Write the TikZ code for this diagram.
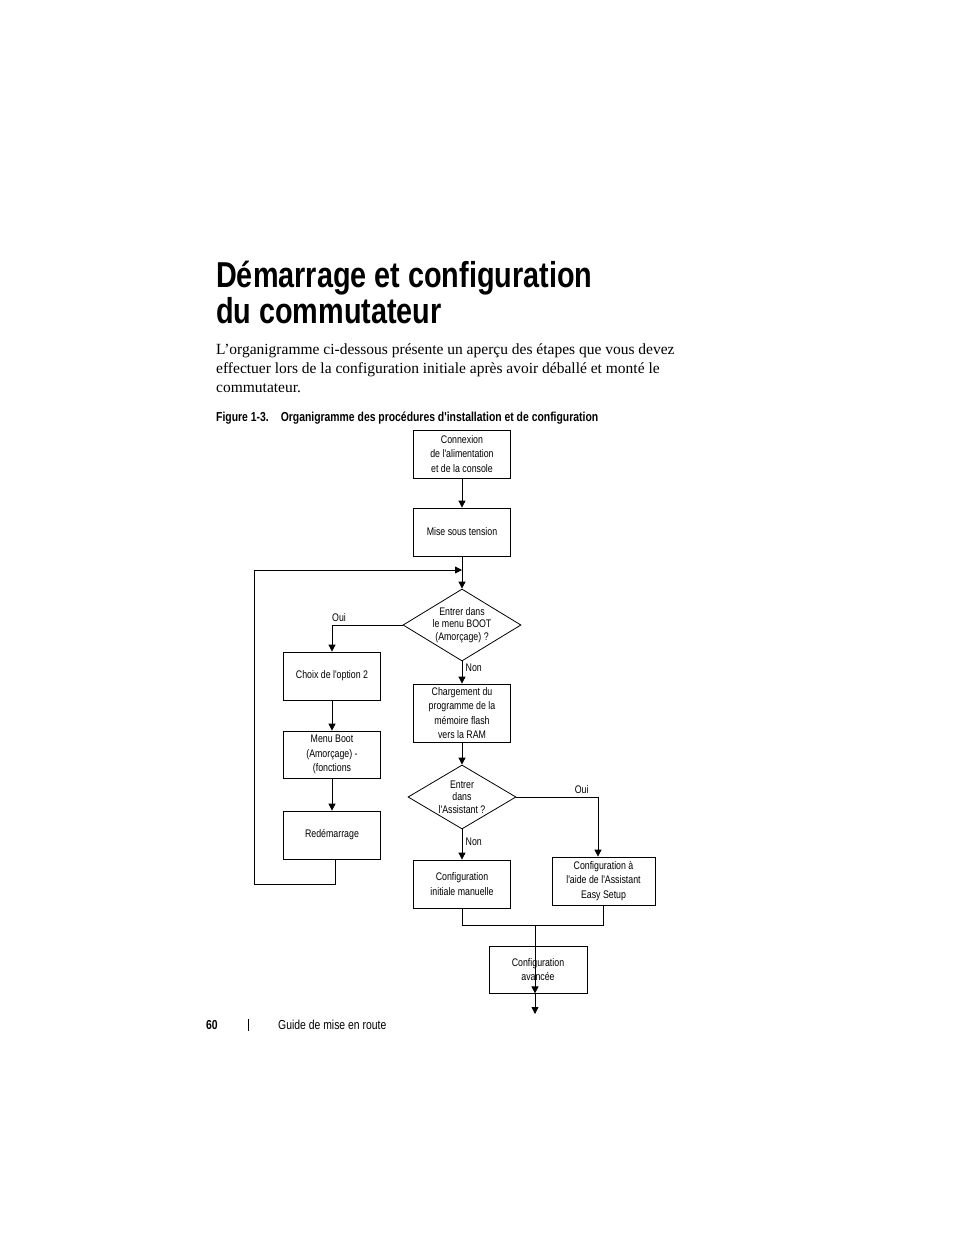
\documentclass[tikz,border=0pt]{standalone}
\usepackage{fontspec}
\setmainfont{Liberation Serif}
\newfontfamily\cond[FakeStretch=0.8]{Liberation Sans}
\usetikzlibrary{shapes.geometric,arrows.meta}
\tikzset{
	box/.style={draw,line width=0.8pt,minimum width=97pt,minimum height=48pt,inner sep=1pt,align=center,font=\cond\fontsize{11}{14.5}\selectfont},
	choice/.style={draw,diamond,line width=0.8pt,aspect=1.65,inner sep=0pt,align=center,font=\cond\fontsize{11}{12.5}\selectfont},
	lbl/.style={font=\cond\fontsize{11}{13}\selectfont},
	flow/.style={line width=0.8pt,-{Triangle[length=7pt,width=7pt]}},
	line/.style={line width=0.8pt}
}
\begin{document}
\begin{tikzpicture}[x=1pt,y=-1pt]
	\useasboundingbox (0,0) rectangle (954,1235);
	% page text
	\node[anchor=base west,font=\cond\bfseries\fontsize{36}{36}\selectfont,inner sep=0] (title1) at (216,287) {Démarrage et configuration};
	\node[anchor=base west,font=\cond\bfseries\fontsize{36}{36}\selectfont,inner sep=0] (title2) at (216,323) {du commutateur};
	\node[anchor=base west,font=\fontsize{15.5}{19}\selectfont,inner sep=0] (p1) at (216,354) {L'organigramme ci-dessous présente un aperçu des étapes que vous devez};
	\node[anchor=base west,font=\fontsize{15.5}{19}\selectfont,inner sep=0] (p2) at (216,373) {effectuer lors de la configuration initiale après avoir déballé et monté le};
	\node[anchor=base west,font=\fontsize{15.5}{19}\selectfont,inner sep=0] (p3) at (216,392) {commutateur.};
	\node[anchor=base west,font=\cond\bfseries\fontsize{13}{15}\selectfont,inner sep=0] (cap) at (216,421) {Figure 1-3.\hspace{12pt}Organigramme des procédures d'installation et de configuration};
	% flowchart
	\node[box] (power) at (462,454) {Connexion\\de l'alimentation\\et de la console};
	\node[box] (on) at (462,532) {Mise sous tension};
	\node[choice,minimum width=118pt,minimum height=72pt] (boot) at (462,625) {Entrer dans\\le menu BOOT\\(Amorçage) ?};
	\node[box] (opt) at (332,676) {Choix de l'option 2};
	\node[box,minimum height=58pt] (load) at (462,713) {Chargement du\\programme de la\\mémoire flash\\vers la RAM};
	\node[box,minimum height=47pt] (menu) at (332,754.5) {Menu Boot\\(Amorçage) -\\(fonctions};
	\node[box] (reboot) at (332,835) {Redémarrage};
	\node[choice,minimum width=108pt,minimum height=64pt] (wiz) at (462,797) {Entrer\\dans\\l'Assistant ?};
	\node[box] (manual) at (462,884) {Configuration\\initiale manuelle};
	\node[box,minimum width=103pt] (easy) at (603.5,881) {Configuration à\\l'aide de l'Assistant\\Easy Setup};
	\node[box,minimum width=98pt,minimum height=47pt] (adv) at (538,969.5) {Configuration\\avancée};
	\coordinate (top) at (462,570);
	\coordinate (merge) at (535,925);
	\coordinate (end) at (535,1014);
	\draw[flow] (power) -- (on);
	\draw[line] (on) -- (top);
	\draw[flow] (top) -- (boot.north);
	\draw[flow] (boot.west) -| (opt.north) node[lbl,pos=0.45,above] {Oui};
	\draw[flow] (boot.south) -- (load) node[lbl,pos=0.3,right] {Non};
	\draw[flow] (opt) -- (menu);
	\draw[flow] (menu) -- (reboot);
	\draw[flow] (reboot.south -| 335,0) -- (335,884) -- (254,884) -- (254,570) -- (top);
	\draw[flow] (load) -- (wiz.north);
	\draw[flow] (wiz.east) -| (easy.north -| 598,0) node[lbl,pos=0.4,above] {Oui};
	\draw[flow] (wiz.south) -- (manual) node[lbl,pos=0.4,right] {Non};
	\draw[line] (manual.south) |- (merge) -| (easy.south);
	\draw[flow] (merge) -- (adv.south -| merge) ;
	\draw[flow] (adv.south -| end) -- (end);
	% footer
	\node[anchor=base west,font=\cond\bfseries\fontsize{13}{15}\selectfont,inner sep=0] (page) at (206,1029) {60};
	\node[anchor=base west,font=\cond\fontsize{13}{15}\selectfont,inner sep=0] (guide) at (278,1029) {Guide de mise en route};
	\draw[line width=0.5pt] (248,1019) -- (248,1031);
\end{tikzpicture}
\end{document}
